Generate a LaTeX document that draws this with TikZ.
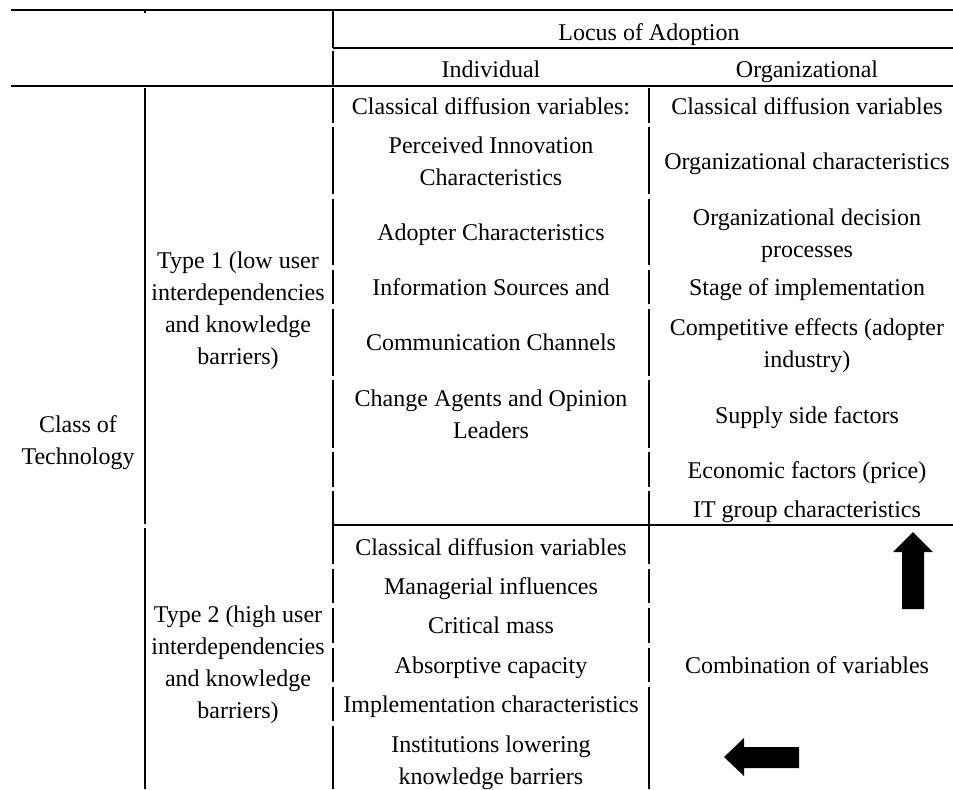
\documentclass[tikz,border=0pt]{standalone}
\usepackage{fontspec}
\setmainfont{Liberation Serif}
\usetikzlibrary{shapes,arrows}
\tikzstyle{cell} = [align=center, inner sep=0pt, anchor=base,
    font=\fontsize{12}{16}\selectfont]
\tikzstyle{rule} = [line width=0.55pt]
\tikzstyle{toprule} = [line width=1.1pt]
\tikzstyle{bigarrow} = [fill=black]

\begin{document}
\begin{tikzpicture}[x=0.5pt,y=-0.5pt]
\useasboundingbox (0,0) rectangle (953,789);

% horizontal rules
\draw[toprule] (11,10) -- (953,10);
\draw[rule] (333,48) -- (953,48);
\draw[rule] (11,86) -- (953,86);
\draw[rule] (333,525) -- (953,525);

% vertical rules, broken at the row borders
\draw[rule] (145,10) -- (145,13);
\foreach \a/\b in {88/524, 528/789}
  \draw[rule] (145,\a) -- (145,\b);
\foreach \a/\b in {10/48, 51/86, 88/123, 127/194, 199/265, 270/304, 309/376,
    380/448, 452/487, 491/564, 569/603, 608/643, 648/682, 687/721, 726/789}
  \draw[rule] (333,\a) -- (333,\b);
\foreach \a/\b in {88/123, 127/194, 199/265, 270/304, 309/376,
    380/448, 452/487, 491/564, 569/603, 608/643, 648/682, 687/789}
  \draw[rule] (649,\a) -- (649,\b);

% header
\node[cell] (locus) at (649,40) {Locus of Adoption};
\node[cell] (indiv) at (491,77) {Individual};
\node[cell] (orga) at (807,77) {Organizational};

% row labels (base = last line)
\node[cell] (tech) at (78,464) {Class of\\Technology};
\node[cell] (typeone) at (238,364) {Type 1 (low user\\interdependencies\\and knowledge\\barriers)};
\node[cell] (typetwo) at (238,718) {Type 2 (high user\\interdependencies\\and knowledge\\barriers)};

% individual, type 1
\node[cell] (indA) at (491,114) {Classical diffusion variables:};
\node[cell] (indB) at (491,185) {Perceived Innovation\\Characteristics};
\node[cell] (indC) at (491,240) {Adopter Characteristics};
\node[cell] (indD) at (491,295) {Information Sources and};
\node[cell] (indE) at (491,350) {Communication Channels};
\node[cell] (indF) at (491,438) {Change Agents and Opinion\\Leaders};

% organizational, type 1
\node[cell] (orgA) at (807,114) {Classical diffusion variables};
\node[cell] (orgB) at (807,169) {Organizational characteristics};
\node[cell] (orgC) at (807,257) {Organizational decision\\processes};
\node[cell] (orgD) at (807,295) {Stage of implementation};
\node[cell] (orgE) at (807,367) {Competitive effects (adopter\\industry)};
\node[cell] (orgF) at (807,423) {Supply side factors};
\node[cell] (orgG) at (807,478) {Economic factors (price)};
\node[cell] (orgH) at (807,517) {IT group characteristics};

% individual, type 2
\node[cell] (indG) at (491,555) {Classical diffusion variables};
\node[cell] (indH) at (491,594) {Managerial influences};
\node[cell] (indI) at (491,633) {Critical mass};
\node[cell] (indJ) at (491,673) {Absorptive capacity};
\node[cell] (indK) at (491,712) {Implementation characteristics};
\node[cell] (indL) at (491,784) {Institutions lowering\\knowledge barriers};

% organizational, type 2
\node[cell] (comb) at (807,673) {Combination of variables};

% block arrows
\fill[bigarrow] (913,532) -- (933,552) -- (924,552) -- (924,609)
  -- (902,609) -- (902,552) -- (893,552) -- cycle;
\fill[bigarrow] (724,757) -- (744,738) -- (744,747) -- (799,747)
  -- (799,768) -- (744,768) -- (744,776) -- cycle;

\end{tikzpicture}
\end{document}
